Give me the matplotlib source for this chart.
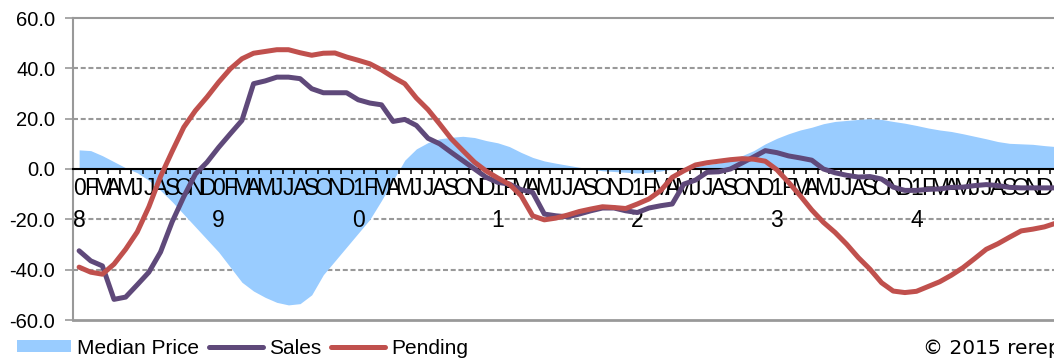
import matplotlib
matplotlib.use("Agg")
import matplotlib.pyplot as plt
from matplotlib.patches import Patch
from matplotlib.lines import Line2D
import numpy as np

# monthly year-over-year change (%), Jan 2008 .. Jan 2015
years = ["08", "09", "10", "11", "12", "13", "14"]
month_letters = ["J", "F", "M", "A", "M", "J", "J", "A", "S", "O", "N", "D"]

median_price = [
    7.6, 7.3, 5.3, 2.9, 0.5, -1.5, -4.5, -8.5, -13.0, -18.0, -23.0, -28.0,
    -33.0, -39.0, -45.0, -48.5, -51.0, -53.0, -54.0, -53.5, -50.0, -42.0, -36.5, -31.0,
    -25.5, -20.0, -12.5, -4.5, 3.5, 8.0, 10.5, 12.0, 12.6, 13.0, 12.5, 11.3,
    10.4, 8.9, 6.6, 4.6, 3.2, 2.3, 1.5, 0.7, 0.0, -0.7, -1.0, -1.3,
    -1.6, -1.3, -0.8, 0.0, 0.5, 1.0, 1.7, 2.4, 3.3, 5.3, 7.3, 10.0,
    12.2, 14.0, 15.5, 16.6, 18.0, 18.9, 19.3, 19.7, 20.0, 19.7, 18.9, 18.2,
    17.3, 16.3, 15.5, 14.9, 14.0, 13.0, 12.0, 10.9, 10.2, 10.0, 9.8, 9.3,
    8.9,
]
sales = [
    -32.5, -36.5, -38.5, -51.8, -50.9, -46.0, -41.0, -33.0, -21.0, -11.0, -2.0, 2.7,
    8.6, 14.0, 19.3, 33.9, 35.0, 36.5, 36.5, 35.9, 31.9, 30.3, 30.3, 30.3,
    27.5, 26.2, 25.5, 18.9, 19.7, 17.3, 12.2, 10.0, 6.6, 3.3, 0.0, -3.3,
    -5.3, -6.0, -8.2, -9.3, -17.9, -18.6, -19.0, -17.9, -16.6, -15.5, -15.5, -16.6,
    -17.3, -15.5, -14.6, -13.9, -6.0, -4.4, -1.3, -1.1, 0.0, 2.4, 4.8, 7.3,
    6.5, 5.2, 4.4, 3.5, 0.0, -1.5, -2.5, -3.2, -3.0, -4.0, -7.2, -8.5,
    -8.5, -8.1, -7.9, -7.3, -7.2, -6.6, -6.2, -6.6, -7.3, -7.5, -7.5, -7.5,
    -7.5,
]
pending = [
    -39.0, -41.0, -41.8, -37.8, -31.9, -25.0, -15.0, -3.0, 7.0, 16.6, 23.2, 28.6,
    34.5, 39.8, 43.8, 46.0, 46.7, 47.4, 47.4, 46.2, 45.2, 46.0, 46.1, 44.5,
    43.2, 41.8, 39.4, 36.5, 33.9, 28.2, 23.6, 17.9, 12.0, 7.3, 2.7, -0.8,
    -3.6, -6.1, -10.6, -18.6, -20.2, -19.5, -18.3, -16.9, -15.9, -15.0, -15.3, -15.7,
    -13.9, -11.9, -8.6, -3.3, -0.7, 1.6, 2.5, 3.1, 3.7, 4.1, 3.9, 3.1,
    -0.3, -5.3, -10.6, -16.3, -21.2, -25.2, -29.9, -35.2, -39.8, -45.2, -48.5, -49.1,
    -48.6, -46.7, -44.8, -42.2, -39.2, -35.6, -31.9, -29.7, -27.1, -24.6, -23.9, -23.0,
    -21.5,
]
y_ticks = [-60, -40, -20, 0, 20, 40, 60]

n = len(median_price)
x = np.arange(n)

# one label per month, year digits stacked under the January slot
labels = []
for yy in years:
    for m, letter in enumerate(month_letters):
        labels.append(yy[0] + "\n" + yy[1] if m == 0 else letter)

C_AREA = "#99CCFF"
C_SALES = "#5F497A"
C_PEND = "#C0504D"
C_GRAY = "#999999"

W, H = 1054, 358
fig = plt.figure(figsize=(W / 100, H / 100), dpi=100)
px_month = 11.63
ax = fig.add_axes([73.3 / W, 38 / H, 85 * px_month / W, 302 / H])
ax.set_xlim(-0.5, n - 0.5)
ax.set_ylim(-60, 60)

# dashed grid sits under the area
for v in [-40, -20, 20, 40]:
    ax.axhline(v, color=C_GRAY, lw=1.5, dashes=(2.4, 1.3), zorder=0.5)
ax.axhline(-60, color=C_GRAY, lw=2, zorder=0.6, clip_on=False)

ax.fill_between(x, median_price, 0, color=C_AREA, lw=0, zorder=1)
ax.plot(x, sales, color=C_SALES, lw=3.6, solid_joinstyle="round",
        solid_capstyle="round", zorder=3)
ax.plot(x, pending, color=C_PEND, lw=3.6, solid_joinstyle="round",
        solid_capstyle="round", zorder=3)

ax.spines["right"].set_visible(False)
ax.spines["top"].set_color(C_GRAY)
ax.spines["top"].set_linewidth(1.5)
ax.spines["left"].set_color(C_GRAY)
ax.spines["left"].set_linewidth(1.5)
ax.spines["bottom"].set_position(("data", 0))
ax.spines["bottom"].set_color("black")
ax.spines["bottom"].set_linewidth(1.5)
ax.spines["bottom"].set_zorder(2.5)

ax.set_yticks(y_ticks)
ax.set_yticklabels([f"{v:.1f}" for v in y_ticks], fontsize=14.5,
                   family=["Liberation Sans", "DejaVu Sans"])
ax.tick_params(axis="y", direction="out", length=6, width=1.2, color=C_GRAY, pad=7)

ax.set_xticks(np.arange(len(labels)))
ax.set_xticklabels(labels, fontsize=16.5, linespacing=1.5,
                   family=["Liberation Sans Narrow", "Liberation Sans", "DejaVu Sans"])
ax.set_xticks(np.arange(n + 1) - 0.5, minor=True)
ax.tick_params(axis="x", which="major", length=0, pad=6)
ax.tick_params(axis="x", which="minor", direction="out", length=3.8, width=1.1,
               color="black")

handles = [
    Patch(facecolor=C_AREA, edgecolor="none"),
    Line2D([], [], color=C_SALES, lw=3.6, solid_capstyle="round"),
    Line2D([], [], color=C_PEND, lw=3.6, solid_capstyle="round"),
]
fig.legend(handles, ["Median Price", "Sales", "Pending"], loc="center left",
           bbox_to_anchor=(17 / W, 10 / H), ncol=3, frameon=False,
           borderpad=0, borderaxespad=0, handlelength=2.6, handleheight=0.5,
           handletextpad=0.3, columnspacing=0.45,
           prop={"family": ["Liberation Sans", "DejaVu Sans"], "size": 15})

fig.text(923 / W, 10 / H, "© 2015 rereport", fontsize=14.5, va="center",
         ha="left", family=["DejaVu Sans"])

fig.savefig("out.png", dpi=100)
